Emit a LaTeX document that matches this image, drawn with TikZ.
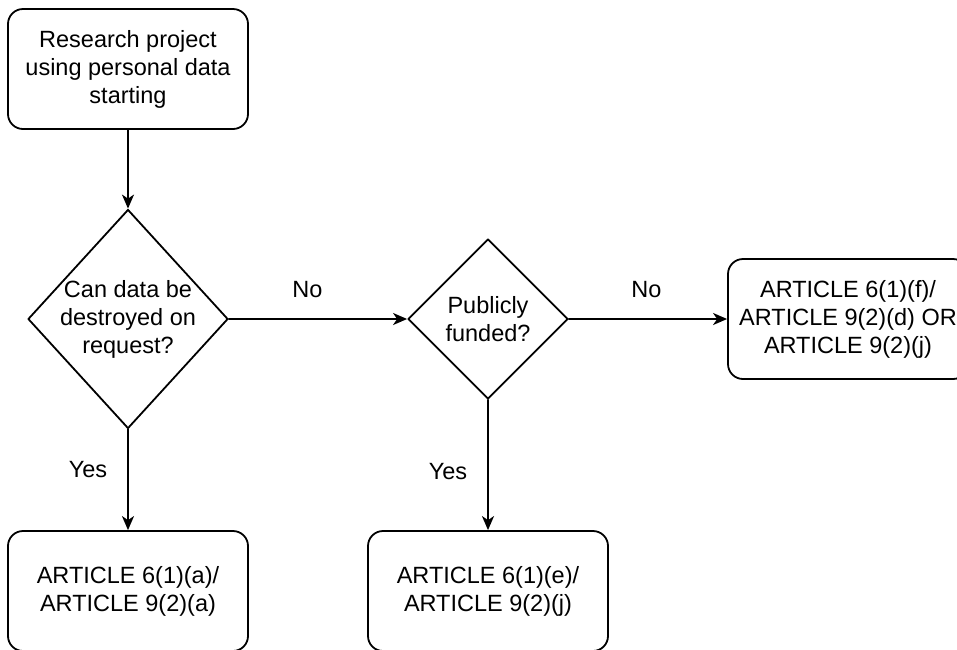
\documentclass[tikz,border=0pt]{standalone}
\usepackage{fontspec}
\setmainfont{Liberation Sans}
\usetikzlibrary{shapes.geometric,arrows.meta}
\begin{document}
\begin{tikzpicture}[x=1pt, y=-1pt, line cap=round, line join=round, line width=1.8pt, font=\fontsize{23.5}{28}\selectfont, >={Stealth[length=14pt,width=12pt,inset=4pt]}]
	\tikzset{box/.style={draw, rounded corners=15pt, minimum width=240pt, minimum height=120pt, align=center, inner sep=0pt},
		decision/.style={draw, diamond, inner sep=0pt}}
	\useasboundingbox (0,0) rectangle (957,649);
	\clip (0,0) rectangle (957,649);
	\node[box] (start) at (128,69) {Research project\\using personal data\\starting};
	\node[decision, minimum width=200pt, minimum height=219pt, label={[align=center]center:Can data be\\destroyed on\\request?}] (destroy) at (128,319) {};
	\node[decision, minimum width=160pt, minimum height=160pt, label={[align=center]center:Publicly\\funded?}] (funded) at (488,319) {};
	\node[box] (artF) at (848,319) {ARTICLE 6(1)(f)/\\ARTICLE 9(2)(d) OR\\ARTICLE 9(2)(j)};
	\node[box] (artA) at (128,591) {ARTICLE 6(1)(a)/\\ARTICLE 9(2)(a)};
	\node[box] (artE) at (488,591) {ARTICLE 6(1)(e)/\\ARTICLE 9(2)(j)};
	\draw[->] (start) -- (destroy);
	\draw[->] (destroy.east) -- node[pos=.44, yshift=29pt]{No} (funded.west);
	\draw[->] (funded.east) -- node[pos=.49, yshift=29pt]{No} (artF.west);
	\draw[->] (destroy.south) -- node[pos=.4, xshift=-40pt]{Yes} (artA.north);
	\draw[->] (funded.south) -- node[pos=.55, xshift=-40pt]{Yes} (artE.north);
\end{tikzpicture}
\end{document}
